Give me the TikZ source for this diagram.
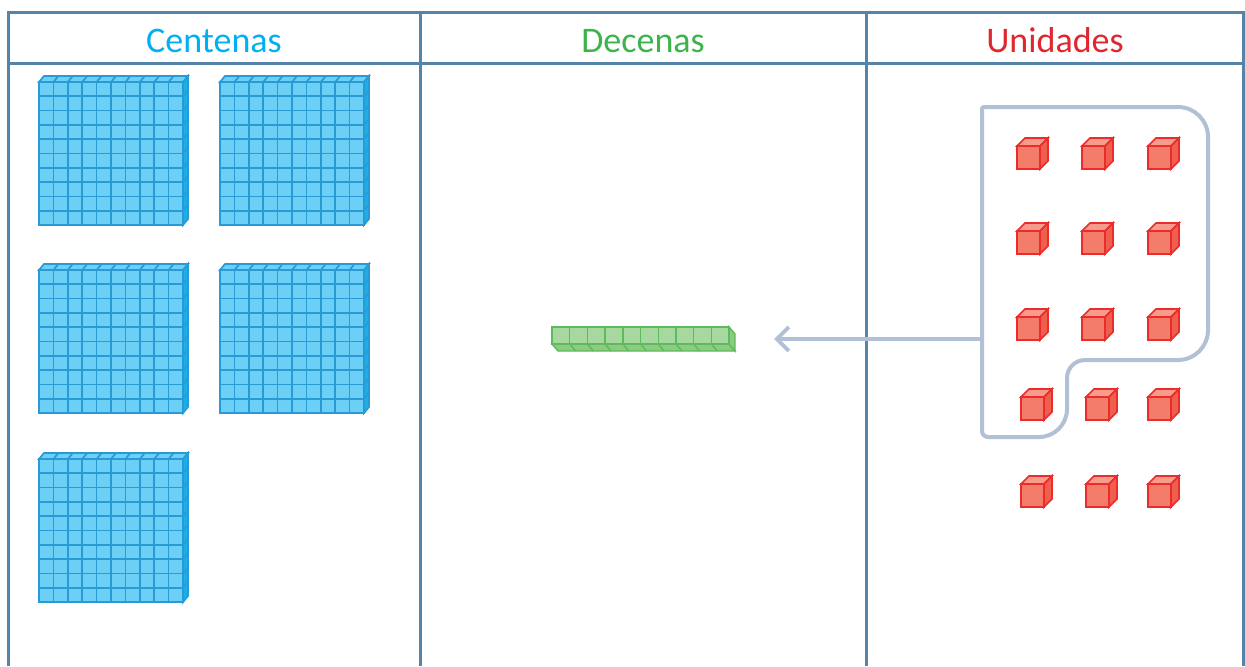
\documentclass[tikz,border=0pt]{standalone}
\usepackage{fontspec}
\setmainfont{Carlito}
\usetikzlibrary{arrows.meta}
\definecolor{tabcol}{HTML}{5485A8}
\definecolor{cencol}{HTML}{00B0F0}
\definecolor{deccol}{HTML}{3CB44B}
\definecolor{unicol}{HTML}{E0262E}
\definecolor{grpcol}{HTML}{B1C0D5}

\begin{document}
\begin{tikzpicture}[x=0.5pt,y=-0.5pt,
    tab/.style={draw=tabcol,line width=1.5pt},
    head/.style={anchor=base,font=\fontsize{18}{20}\selectfont},
    hface/.style={fill={rgb,255:red,107;green,207;blue,246},draw={rgb,255:red,40;green,155;blue,215},line width=0.85pt},
    hside/.style={fill={rgb,255:red,26;green,175;blue,230},draw={rgb,255:red,40;green,155;blue,215},line width=0.85pt},
    hline/.style={draw={rgb,255:red,40;green,155;blue,215},line width=0.85pt},
    rface/.style={fill={rgb,255:red,168;green,216;blue,160},draw={rgb,255:red,92;green,187;blue,92},line width=0.7pt},
    rbot/.style={fill={rgb,255:red,140;green,203;blue,128},draw={rgb,255:red,92;green,187;blue,92},line width=0.7pt},
    rline/.style={draw={rgb,255:red,92;green,187;blue,92},line width=0.7pt},
    ufront/.style={fill={rgb,255:red,244;green,124;blue,106},draw={rgb,255:red,236;green,43;blue,43},line width=0.8pt},
    utop/.style={fill={rgb,255:red,247;green,156;blue,140},draw={rgb,255:red,236;green,43;blue,43},line width=0.8pt},
    uside/.style={fill={rgb,255:red,239;green,95;blue,79},draw={rgb,255:red,236;green,43;blue,43},line width=0.8pt},
    grp/.style={draw=grpcol,line width=2pt},
    arr/.style={draw=grpcol,line width=2pt,-{Straight Barb[length=6pt,width=12pt]}}]
    \useasboundingbox (0,0) rectangle (1245,666);

    % table
    \draw[tab](8,666)--(8,12)--(1243,12)--(1243,666);
    \draw[tab](8,63)--(1243,63);
    \draw[tab](420,12)--(420,666);
    \draw[tab](866,12)--(866,666);
    \node[head,text=cencol](cen)at(214,52){Centenas};
    \node[head,text=deccol](dec)at(643,52){Decenas};
    \node[head,text=unicol](uni)at(1055,52){Unidades};

    % centenas
    \foreach \bx/\by in {39/82,220/82,39/270,220/270,39/459}{
        \filldraw[hface](\bx,\by)--++(5,-6)--++(144,0)--++(-5,6)--cycle;
        \foreach \i in {1,...,9} \draw[hline](\bx+\i*14.4,\by)--++(5,-6);
        \filldraw[hside](\bx+144,\by)--++(5,-6)--++(0,143)--++(-5,6)--cycle;
        \foreach \i in {1,...,9} \draw[hline](\bx+144,\by+\i*14.3)--++(5,-6);
        \filldraw[hface](\bx,\by)rectangle++(144,143);
        \foreach \i in {1,...,9}{
            \draw[hline](\bx+\i*14.4,\by)--++(0,143);
            \draw[hline](\bx,\by+\i*14.3)--++(144,0);
        }
    }

    % decenas
    \filldraw[rbot](552,344)--++(6,7)--++(177,0)--++(-6,-7)--cycle;
    \foreach \i in {1,...,9} \draw[rline](552+\i*17.7,344)--++(6,7);
    \filldraw[rbot](729,327)--++(6,7)--++(0,17)--++(-6,-7)--cycle;
    \filldraw[rface](552,327)rectangle(729,344);
    \foreach \i in {1,...,9} \draw[rline](552+\i*17.7,327)--++(0,17);

    % unidades
    \foreach \uy/\ul/\um in {146/1017/1082,231/1017/1082,317/1017/1082,397/1021/1086,484/1021/1086}
    \foreach \ux in {\ul,\um,1148}{
        \filldraw[utop](\ux,\uy)--++(8,-8)--++(23,0)--++(-8,8)--cycle;
        \filldraw[uside](\ux+23,\uy)--++(8,-8)--++(0,23)--++(-8,8)--cycle;
        \filldraw[ufront](\ux,\uy)rectangle++(23,23);
    }

    \coordinate(grpw)at(982,339);
    \coordinate(tip)at(774,339);
    \draw[grp](grpw)[rounded corners=1pt]--(982,107)[rounded corners=15pt]--(1208,107)--(1208,360)[rounded corners=9pt]--(1067,360)[rounded corners=14pt]--(1067,437)[rounded corners=3pt]--(982,437)--cycle;
    \draw[arr](grpw)--(tip);
\end{tikzpicture}
\end{document}
